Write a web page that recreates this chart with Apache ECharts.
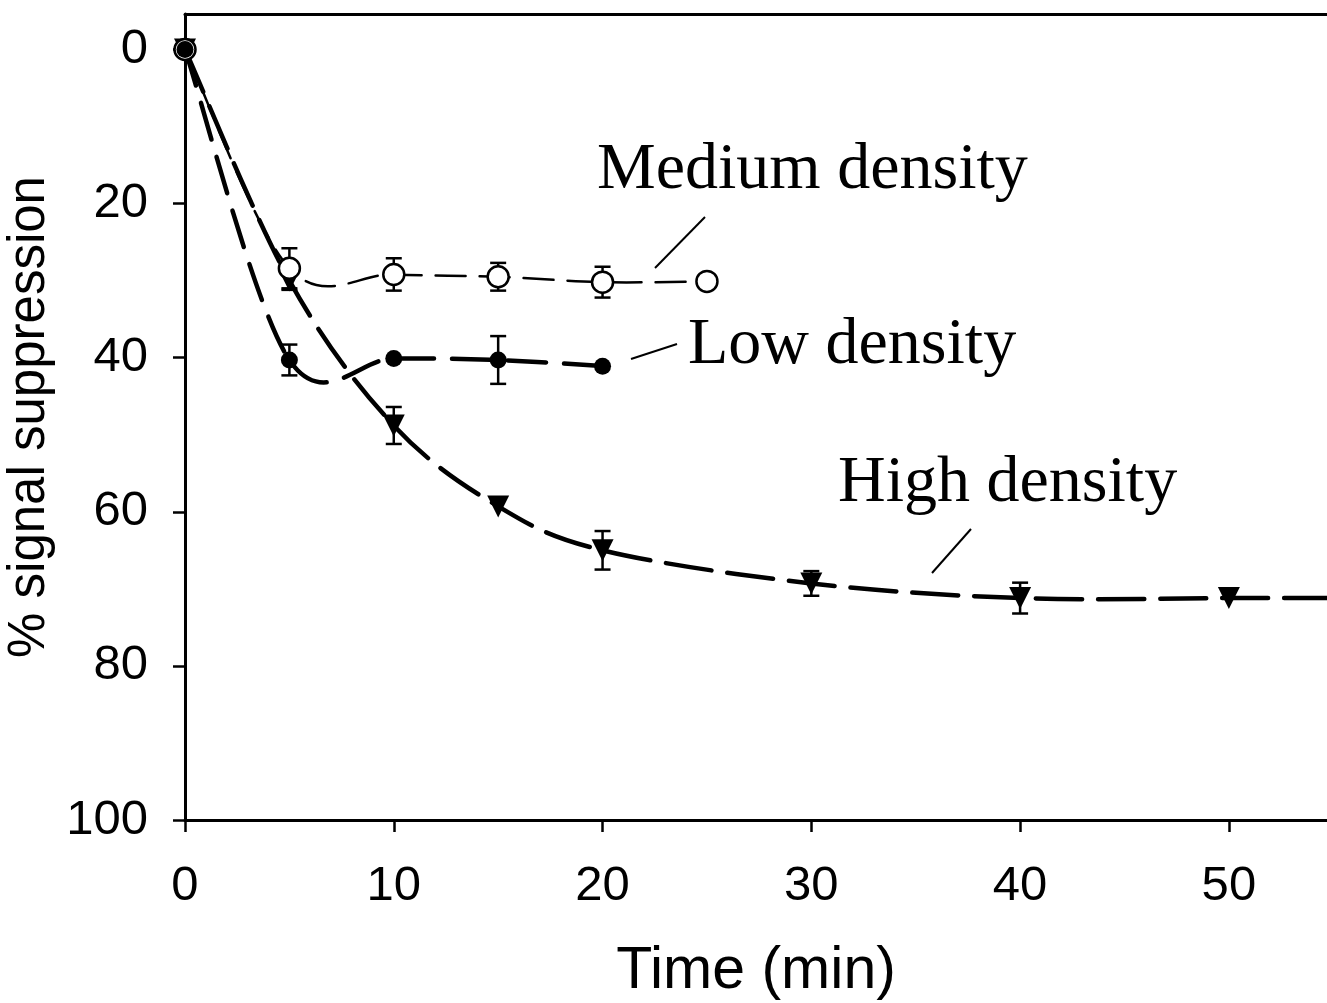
<!DOCTYPE html>
<html>
<head>
<meta charset="utf-8">
<script src="https://cdn.jsdelivr.net/npm/echarts@6/dist/echarts.min.js"></script>
<style>
  html, body { margin: 0; padding: 0; background: #fff; }
  #chart { width: 1327px; height: 1003px; }
</style>
</head>
<body>
<div id="chart"></div>
<script>
// time points (min)
const mediumTime = [0, 5, 10, 15, 20, 25];
const lowTime = [0, 5, 10, 15, 20];
const highTime = [0, 5, 10, 15, 20, 30, 40, 50];

// % signal suppression
const mediumValues = [0, 28.4, 29.2, 29.5, 30.2, 30.1];
const lowValues = [0, 40.3, 40.1, 40.3, 41.1];
const highValues = [0, 30.0, 48.8, 59.3, 65.0, 69.3, 71.2, 71.2];

// error bars (+/-), 0 = none drawn
const mediumErr = [0, 2.6, 2.1, 1.8, 2.0, 0];
const lowErr = [0, 2.0, 0, 3.1, 0];
const highErr = [0, 1.2, 2.4, 0, 2.5, 1.6, 2.0, 0];

const xTicks = [0, 10, 20, 30, 40, 50];
const yTicks = [0, 20, 40, 60, 80, 100];

const X_MAX = 54.7;

const chart = echarts.init(document.getElementById('chart'));

function pairs(xs, ys) {
  return xs.map((x, i) => [x, ys[i]]);
}
function errData(xs, ys, es) {
  return xs.map((x, i) => [x, ys[i], es[i]]).filter(d => d[2] > 0);
}

// I-shaped error bars
function renderErr(params, api) {
  const x = api.value(0), y = api.value(1), e = api.value(2);
  const top = api.coord([x, y - e]);
  const bot = api.coord([x, y + e]);
  const w = 8;
  const style = { stroke: '#000', lineWidth: 2.5 };
  return {
    type: 'group',
    children: [
      { type: 'line', shape: { x1: top[0], y1: top[1], x2: bot[0], y2: bot[1] }, style },
      { type: 'line', shape: { x1: top[0] - w, y1: top[1], x2: top[0] + w, y2: top[1] }, style },
      { type: 'line', shape: { x1: bot[0] - w, y1: bot[1], x2: bot[0] + w, y2: bot[1] }, style }
    ]
  };
}

// sigmaplot-like spline through the points (catmull-rom, no clamping so it can overshoot)
function curveRenderer(xs, ys, lineStyle, extend) {
  return function (params, api) {
    if (params.dataIndex !== 0) return null;
    const p = xs.map((x, i) => api.coord([x, ys[i]]));
    let d = 'M' + p[0][0] + ',' + p[0][1];
    for (let i = 0; i < p.length - 1; i++) {
      const p0 = p[i - 1] || p[i], p1 = p[i], p2 = p[i + 1], p3 = p[i + 2] || p[i + 1];
      const c1 = [p1[0] + (p2[0] - p0[0]) / 6, p1[1] + (p2[1] - p0[1]) / 6];
      const c2 = [p2[0] - (p3[0] - p1[0]) / 6, p2[1] - (p3[1] - p1[1]) / 6];
      d += ' C' + c1.join(',') + ' ' + c2.join(',') + ' ' + p2.join(',');
    }
    if (extend) {
      const e = api.coord([X_MAX, ys[ys.length - 1]]);
      d += ' L' + e.join(',');
    }
    return {
      type: 'path',
      shape: { pathData: d },
      style: Object.assign({ fill: null, stroke: '#000', lineCap: 'round' }, lineStyle)
    };
  };
}

const sansFont = '"Liberation Sans", Arial, sans-serif';
const serifFont = '"Liberation Serif", "Times New Roman", serif';
const annoFont = '66px ' + serifFont;

const option = {
  backgroundColor: '#fff',
  animation: false,
  grid: {
    left: 185, right: 0, top: 14, bottom: 183,
    containLabel: false,
    outerBoundsMode: 'none'
  },
  xAxis: [{
    type: 'value',
    min: 0,
    max: X_MAX,
    name: 'Time (min)',
    nameLocation: 'middle',
    nameGap: 122,
    nameTextStyle: { fontFamily: sansFont, fontSize: 59, color: '#000' },
    axisLine: { onZero: false, lineStyle: { color: '#000', width: 3 } },
    axisTick: { customValues: xTicks, length: 12, lineStyle: { color: '#000', width: 2.5 } },
    axisLabel: { customValues: xTicks, fontFamily: sansFont, fontSize: 49, color: '#000', margin: 42 },
    splitLine: { show: false }
  }, {
    type: 'value',
    position: 'top',
    min: 0,
    max: X_MAX,
    axisLine: { onZero: false, lineStyle: { color: '#000', width: 3 } },
    axisTick: { show: false },
    axisLabel: { show: false },
    splitLine: { show: false }
  }],
  yAxis: {
    type: 'value',
    inverse: true,
    min: -4.6,
    max: 100,
    name: '% signal suppression',
    nameLocation: 'middle',
    nameGap: 123,
    nameTextStyle: { fontFamily: sansFont, fontSize: 51, color: '#000' },
    axisLine: { onZero: false, lineStyle: { color: '#000', width: 3 } },
    axisTick: { customValues: yTicks, length: 12, lineStyle: { color: '#000', width: 2.5 } },
    axisLabel: { customValues: yTicks, fontFamily: sansFont, fontSize: 49, color: '#000', margin: 37 },
    splitLine: { show: false }
  },
  series: [
    // fitted curves
    {
      name: 'Medium density curve', type: 'custom',
      renderItem: curveRenderer(mediumTime, mediumValues, { lineWidth: 2.5, lineDash: [30, 14] }),
      data: pairs(mediumTime, mediumValues), z: 2, silent: true
    },
    {
      name: 'Low density curve', type: 'custom',
      renderItem: curveRenderer(lowTime, lowValues, { lineWidth: 4.5, lineDash: [38, 18] }),
      data: pairs(lowTime, lowValues), z: 2, silent: true
    },
    {
      name: 'High density curve', type: 'custom',
      renderItem: curveRenderer(highTime, highValues, { lineWidth: 4.5, lineDash: [46, 16] }, true),
      data: pairs(highTime, highValues), z: 2, silent: true
    },
    // error bars
    {
      name: 'Medium density err', type: 'custom', renderItem: renderErr,
      data: errData(mediumTime, mediumValues, mediumErr), z: 3
    },
    {
      name: 'Low density err', type: 'custom', renderItem: renderErr,
      data: errData(lowTime, lowValues, lowErr), z: 3
    },
    {
      name: 'High density err', type: 'custom', renderItem: renderErr,
      data: errData(highTime, highValues, highErr), z: 3
    },
    // markers
    {
      name: 'High density', type: 'scatter',
      data: pairs(highTime, highValues),
      symbol: 'triangle', symbolRotate: 180, symbolSize: 22,
      itemStyle: { color: '#000', opacity: 1 },
      z: 4
    },
    {
      name: 'Medium density', type: 'scatter',
      data: pairs(mediumTime, mediumValues),
      symbol: 'circle', symbolSize: 21,
      itemStyle: { color: '#fff', borderColor: '#000', borderWidth: 2.5, opacity: 1 },
      z: 5
    },
    {
      name: 'Low density', type: 'scatter',
      data: pairs(lowTime, lowValues),
      symbol: 'circle', symbolSize: 17,
      itemStyle: { color: '#000', opacity: 1 },
      z: 6
    }
  ],
  graphic: [
    { type: 'text', left: 597, top: 138, style: { text: 'Medium density', font: annoFont, fill: '#000' } },
    { type: 'line', shape: { x1: 655, y1: 268, x2: 705, y2: 217 }, style: { stroke: '#000', lineWidth: 2 } },
    { type: 'text', left: 688, top: 313, style: { text: 'Low density', font: annoFont, fill: '#000' } },
    { type: 'line', shape: { x1: 631, y1: 359, x2: 677, y2: 344 }, style: { stroke: '#000', lineWidth: 2 } },
    { type: 'text', left: 838, top: 451, style: { text: 'High density', font: annoFont, fill: '#000' } },
    { type: 'line', shape: { x1: 932, y1: 573, x2: 971, y2: 529 }, style: { stroke: '#000', lineWidth: 2 } }
  ]
};

chart.setOption(option);
</script>
</body>
</html>
